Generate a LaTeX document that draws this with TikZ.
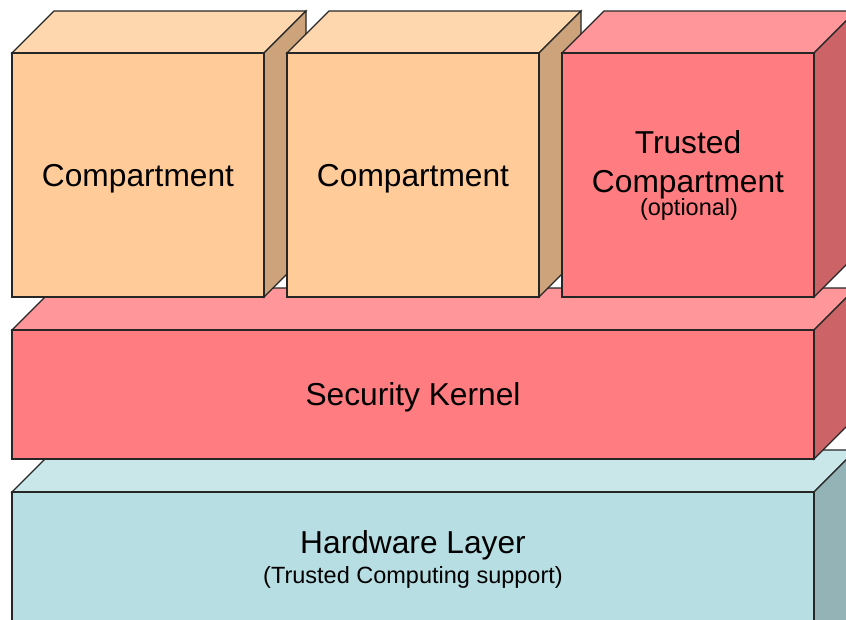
\documentclass[tikz,border=0pt]{standalone}
\usepackage{fontspec}
\setmainfont{Liberation Sans}
\definecolor{compF}{HTML}{FFCC99}
\definecolor{compT}{HTML}{FFD7AE}
\definecolor{compS}{HTML}{CCA37A}
\definecolor{trF}{HTML}{FF7C80}
\definecolor{trT}{HTML}{FF9699}
\definecolor{trS}{HTML}{CC6366}
\definecolor{hwF}{HTML}{B7DFE3}
\definecolor{hwT}{HTML}{C9E6E9}
\definecolor{hwS}{HTML}{93B3B6}
\newcommand\cuboidbox[7]{%
  \filldraw[fill=#6,facestroke] (#1,#2) -- (#1+42,#2-42) -- (#3+42,#2-42) -- (#3,#2) -- cycle;
  \filldraw[fill=#7,facestroke] (#3,#2) -- (#3+42,#2-42) -- (#3+42,#4-42) -- (#3,#4) -- cycle;
  \filldraw[fill=#5,facestroke] (#1,#2) rectangle (#3,#4);
}
\tikzset{
  facestroke/.style={draw=black!85, line width=1.2pt, line join=miter},
  bigtext/.style={anchor=base, inner sep=0pt, font=\fontsize{31.7pt}{38pt}\selectfont},
  smalltext/.style={anchor=base, inner sep=0pt, font=\fontsize{23.5pt}{28pt}\selectfont}
}
\begin{document}
\begin{tikzpicture}[x=1pt,y=-1pt]
\useasboundingbox (0,0) rectangle (846,619);
\clip (0,0) rectangle (846,619);
% hardware layer
\cuboidbox{12}{492}{814}{660}{hwF}{hwT}{hwS}
% security kernel
\cuboidbox{12}{330}{814}{459}{trF}{trT}{trS}
% compartments
\cuboidbox{12}{53}{264}{297}{compF}{compT}{compS}
\cuboidbox{287}{53}{539}{297}{compF}{compT}{compS}
\cuboidbox{562}{53}{814}{297}{trF}{trT}{trS}
% labels
\node[bigtext] (c1) at (138,186) {Compartment};
\node[bigtext] (c2) at (413,186) {Compartment};
\node[bigtext] (t1) at (688,153) {Trusted};
\node[bigtext] (t2) at (688,192) {Compartment};
\node[smalltext] (t3) at (689,215) {(optional)};
\node[bigtext] (sk) at (413,405) {Security Kernel};
\node[bigtext] (hw) at (413,553) {Hardware Layer};
\node[smalltext] (hw2) at (413,583) {(Trusted Computing support)};
\end{tikzpicture}
\end{document}
